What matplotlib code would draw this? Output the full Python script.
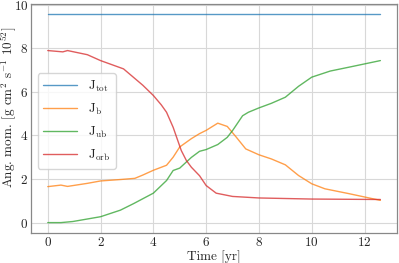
import numpy as np
import matplotlib
matplotlib.use("Agg")
import matplotlib.pyplot as plt

plt.style.use("seaborn-v0_8-whitegrid")
plt.rcParams["font.family"] = "cmr10"
plt.rcParams["mathtext.fontset"] = "cm"
plt.rcParams["axes.unicode_minus"] = False
plt.rcParams["axes.formatter.use_mathtext"] = True

# values (time in yr, J in 1e52 g cm^2 s^-1)
t_tot = [0.0, 12.6]
j_tot = [9.55, 9.55]

t_b = [0.0, 0.5, 0.75, 1.5, 2.0, 2.8, 3.3, 3.6, 4.0, 4.5, 4.75, 5.0, 5.44, 5.75,
       6.0, 6.44, 6.8, 7.14, 7.5, 8.0, 8.47, 9.0, 9.5, 10.0, 10.5, 11.4, 12.6]
j_b = [1.65, 1.72, 1.66, 1.8, 1.91, 1.98, 2.03, 2.18, 2.4, 2.63, 3.0, 3.47, 3.85, 4.08,
       4.23, 4.56, 4.41, 3.92, 3.38, 3.11, 2.92, 2.65, 2.16, 1.78, 1.55, 1.33, 1.02]

t_ub = [0.0, 0.5, 0.95, 2.0, 2.75, 3.25, 4.0, 4.5, 4.75, 5.0, 5.44, 5.75, 6.0, 6.44,
        6.8, 7.0, 7.38, 7.6, 8.0, 8.47, 9.0, 9.5, 10.0, 10.7, 11.5, 12.6]
j_ub = [0.0, 0.0, 0.05, 0.27, 0.57, 0.87, 1.35, 1.93, 2.39, 2.5, 2.99, 3.27, 3.35, 3.58,
        3.91, 4.22, 4.9, 5.06, 5.26, 5.47, 5.75, 6.25, 6.67, 6.95, 7.15, 7.43]

t_orb = [0.0, 0.57, 0.75, 1.5, 2.0, 2.87, 3.24, 3.6, 4.0, 4.3, 4.5, 4.75, 4.9, 5.06,
         5.25, 5.44, 5.75, 6.0, 6.38, 7.0, 8.0, 10.0, 12.6]
j_orb = [7.89, 7.83, 7.89, 7.7, 7.43, 7.05, 6.67, 6.3, 5.83, 5.4, 5.06, 4.37, 3.85, 3.3,
         2.85, 2.54, 2.15, 1.7, 1.35, 1.2, 1.13, 1.08, 1.06]

fig = plt.figure(figsize=(3.99, 2.63), dpi=100)
ax = fig.add_axes([0.078, 0.114, 0.917, 0.871])

ax.plot(t_tot, j_tot, color="#1f77b4", lw=1.0, alpha=0.75, label=r"$\mathrm{J_{tot}}$")
ax.plot(t_b, j_b, color="#ff7f0e", lw=1.0, alpha=0.75, label=r"$\mathrm{J_{b}}$")
ax.plot(t_ub, j_ub, color="#2ca02c", lw=1.0, alpha=0.75, label=r"$\mathrm{J_{ub}}$")
ax.plot(t_orb, j_orb, color="#d62728", lw=1.0, alpha=0.75, label=r"$\mathrm{J_{orb}}$")

ax.set_xticks([0, 2, 4, 6, 8, 10, 12])
ax.set_yticks([0, 2, 4, 6, 8, 10])
ax.tick_params(labelsize=9.5, pad=2)
ax.set_xlabel("Time [yr]", fontsize=9.5, labelpad=1)
ax.set_ylabel(r"Ang. mom. [g cm$^2$ s$^{-1}$ 10$^{52}$]", fontsize=9.5)
ax.yaxis.set_label_coords(-0.035, 0.55)
ax.grid(color="#d8d8d8", lw=0.8)
for s in ax.spines.values():
    s.set_visible(True)
    s.set_color("#888888")
    s.set_linewidth(0.9)

ax.legend(loc="center left", bbox_to_anchor=(0.0, 0.49), fontsize=9.5, frameon=True,
          handlelength=2.6, labelspacing=0.6)

fig.savefig("out.png", dpi=100)
